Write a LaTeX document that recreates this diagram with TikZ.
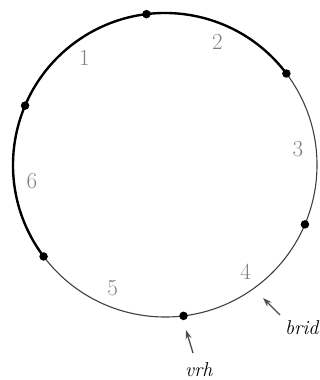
\documentclass[tikz,border=0pt]{standalone}
\usetikzlibrary{arrows.meta,calc}
\begin{document}
\begin{tikzpicture}[x=1pt,y=1pt,
  thickarc/.style={line width=2.4pt,black},
  thinarc/.style={line width=1.1pt,black!75},
  vdot/.style={circle,fill=black,inner sep=0pt,minimum size=8.5pt},
  arclabel/.style={text=black!50,font=\fontsize{23}{27}\selectfont,inner sep=0pt},
  pointer/.style={line width=1.3pt,black!70,-{Stealth[length=9pt,width=6pt]}},
  tag/.style={font=\fontsize{20}{24}\selectfont\itshape,inner sep=0pt,anchor=base west}]
\useasboundingbox (0,0) rectangle (320,380);
\coordinate (c) at (165,215);
\draw[thickarc] ($(c)+(37:152)$) arc[start angle=37,end angle=217,radius=152];
\draw[thinarc] ($(c)+(217:152)$) arc[start angle=217,end angle=397,radius=152];
\foreach \i/\a in {1/97,2/37,3/-23,4/-83,5/-143,6/157}{
  \node[vdot] (v\i) at ($(c)+(\a:152)$) {};
}
\foreach \i/\a in {1/127,2/67,3/7,4/-53,5/-113,6/187}{
  \node[arclabel] (l\i) at ($(c)+(\a:134)$) {\i};
}
\node[tag] (brid) at (285,45) {brid};
\node[tag] (vrh) at (185,3) {vrh};
\coordinate (bt) at (280,65);
\coordinate (bh) at (263,82);
\coordinate (vt) at (193,27);
\coordinate (vh) at (186,50);
\draw[pointer] (bt) -- (bh);
\draw[pointer] (vt) -- (vh);
\end{tikzpicture}
\end{document}
